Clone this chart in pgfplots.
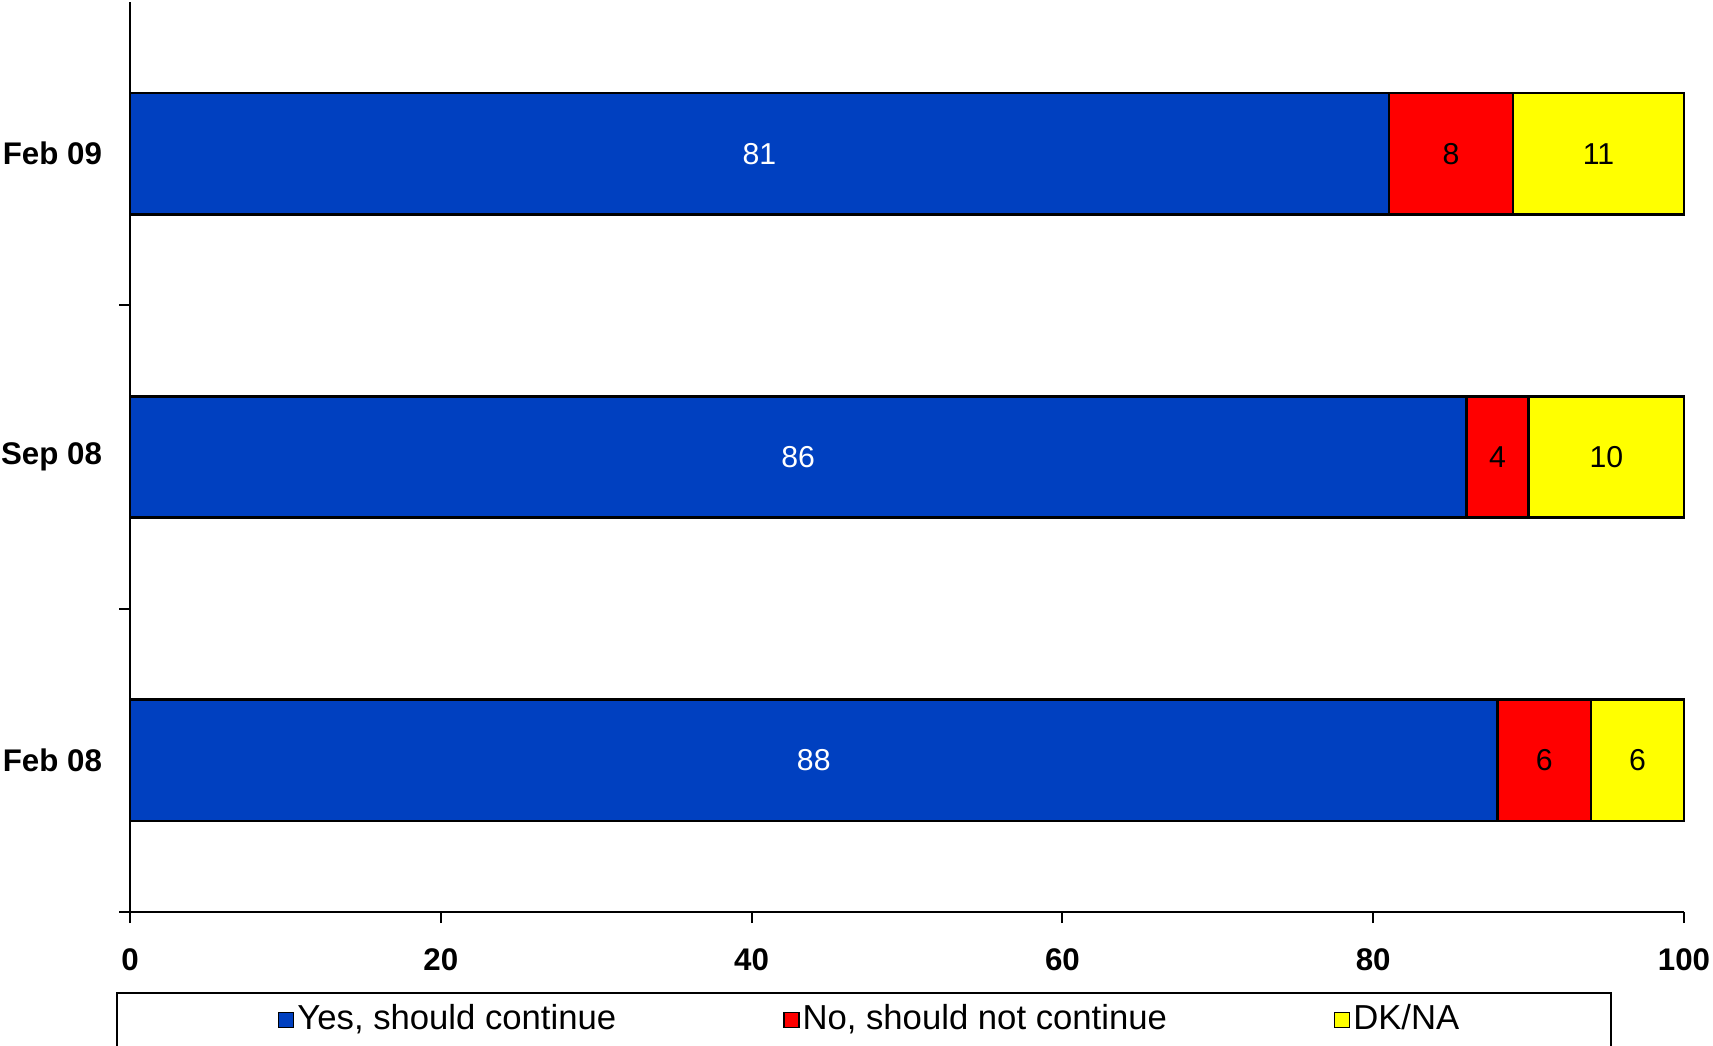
\documentclass[border=0pt]{standalone}
\usepackage{fontspec}
\setmainfont{Liberation Sans}
\usepackage{pgfplots}
\pgfplotsset{compat=1.18}
\definecolor{cblue}{RGB}{0,64,192}
\definecolor{cred}{RGB}{255,0,0}
\definecolor{cyellow}{RGB}{255,255,0}
\begin{document}
\begin{tikzpicture}
\begin{axis}[
  xbar stacked,
  width=15.54cm, height=9.10cm, scale only axis,
  xmin=0, xmax=100, ymin=-0.5, ymax=2.5,
  bar width=0.4,
  clip=false,
  axis x line=bottom, axis y line=left,
  axis line style={line width=0.6pt, -},
  every tick/.style={black, line width=0.6pt},
  tick align=outside,
  major tick length=0.11cm,
  xtick={0,20,40,60,80,100},
  ytick={-0.5,0.5,1.5},
  yticklabels={},
  extra y ticks={0,1,2},
  extra y tick labels={Feb 08,Sep 08,Feb 09},
  extra y tick style={major tick length=0pt, yticklabel style={xshift=-0.156cm}},
  ticklabel style={font=\bfseries\fontsize{8.9}{10}\selectfont},
  /pgf/number format/assume math mode=true,
  xticklabel style={yshift=-0.136cm},
  legend image code/.code={\draw[#1, line width=0.5pt] (0cm,-0.075cm) rectangle (0.15cm,0.075cm);},
  legend columns=3,
  legend style={at={(-0.009,-0.0878)}, anchor=north west, draw=black, line width=0.5pt,
    inner xsep=1.484cm, inner ysep=0.05cm,
    font=\fontsize{9.87}{11}\selectfont,
    /tikz/every even column/.append style={column sep=1.635cm},
    nodes={inner xsep=0.03cm}},
  visualization depends on={rawx \as \rawx},
  nodes near coords={\pgfmathprintnumber{\rawx}},
  every node near coord/.append style={anchor=center, font=\fontsize{8.6}{10}\selectfont},
]
\addplot[fill=cblue, draw=black, line width=0.7pt, every node near coord/.append style={text=white},
  legend image code/.code={\path (-0.12cm,0); \draw[##1, line width=0.5pt] (0cm,-0.075cm) rectangle (0.15cm,0.075cm);}]
  coordinates {(88,0) (86,1) (81,2)};
\addlegendentry{Yes, should continue}
\addplot[fill=cred, draw=black, line width=0.7pt] coordinates {(6,0) (4,1) (8,2)};
\addlegendentry{No, should not continue}
\addplot[fill=cyellow, draw=black, line width=0.7pt] coordinates {(6,0) (10,1) (11,2)};
\addlegendentry{DK/NA}
\end{axis}
\pgfresetboundingbox
\path[use as bounding box] (-1.30cm,-1.33cm) rectangle (15.83cm,9.12cm);
\end{tikzpicture}
\end{document}
